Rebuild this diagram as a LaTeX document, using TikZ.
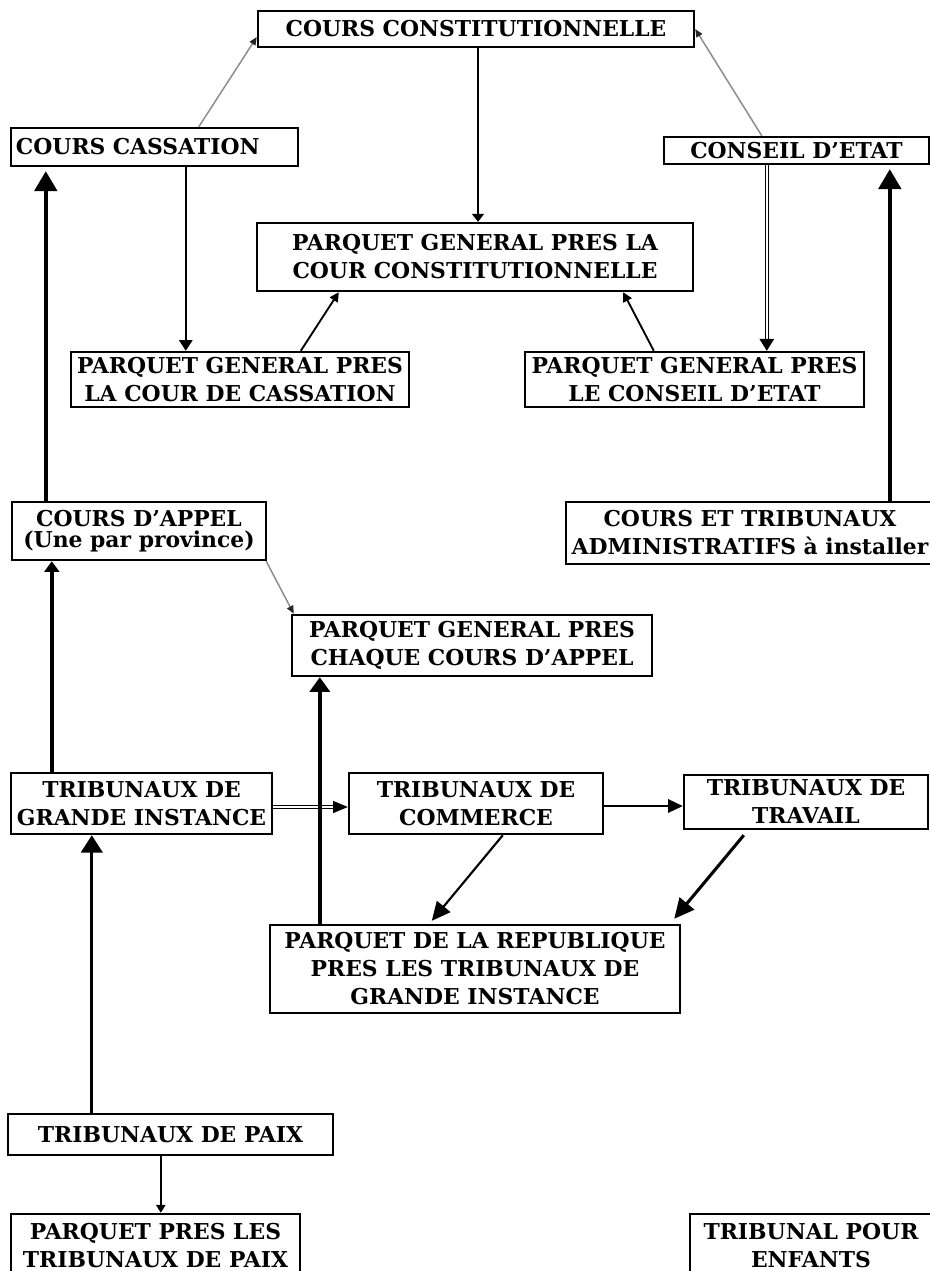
\documentclass[tikz,border=0pt]{standalone}
\usepackage{fontspec}
\setmainfont{DejaVu Serif}
\usetikzlibrary{arrows.meta,calc}
\newcommand\pxu{0.75pt}
\tikzset{
  box/.style={draw=black, line width=1.8pt, inner sep=0pt, align=center,
    font=\bfseries\fontsize{16.4}{21}\selectfont},
  sz/.style 2 args={minimum width=#1*\pxu, minimum height=#2*\pxu},
  grayline/.style={draw=black!45, line width=1.1pt, -{Triangle[length=6pt,width=5pt,color=black!85]}},
  thickline/.style={draw=black, line width=2.6pt},
  midline/.style={draw=black, line width=1.4pt},
  dblline/.style={draw=black, double=white, double distance=1.1pt, line width=0.8pt},
}
\begin{document}
\begin{tikzpicture}[x=0.75pt,y=-0.75pt]
\clip (0,0) rectangle (930,1271);
\fill[white] (0,0) rectangle (930,1271);

% nodes
\node[box, sz={436}{36}] (cc) at (476,29) {COURS CONSTITUTIONNELLE};
\node[box, align=left, text width=277*\pxu, inner xsep=5*\pxu, minimum height=38*\pxu] (cass) at (154.5,147) {COURS CASSATION};
\node[box, sz={265}{27}] (ce) at (796.5,150.5) {CONSEIL D’ETAT};
\node[box, sz={436}{68}] (pgconst) at (475,257) {PARQUET GENERAL PRES LA\\COUR CONSTITUTIONNELLE};
\node[box, sz={338}{55}] (pgcass) at (240,379.5) {PARQUET GENERAL PRES\\LA COUR DE CASSATION};
\node[box, sz={339}{55}] (pgce) at (694.5,379.5) {PARQUET GENERAL PRES\\LE CONSEIL D’ETAT};
\node[box, sz={254}{58}, font=\bfseries\fontsize{16.4}{16}\selectfont] (appel) at (139,531) {COURS D’APPEL\\(Une par province)};
\node[box, sz={368}{62}] (admin) at (750,533) {COURS ET TRIBUNAUX\\ADMINISTRATIFS à installer};
\node[box, sz={360}{61}] (chaque) at (472,645.5) {PARQUET GENERAL PRES\\CHAQUE COURS D’APPEL};
\node[box, sz={261}{61}] (tgi) at (141.5,803.5) {TRIBUNAUX DE\\GRANDE INSTANCE};
\node[box, sz={254}{61}] (comm) at (476,803.5) {TRIBUNAUX DE\\COMMERCE};
\node[box, sz={244}{54}] (trav) at (806,802) {TRIBUNAUX DE\\TRAVAIL};
\node[box, sz={410}{88}] (rep) at (475,969) {PARQUET DE LA REPUBLIQUE\\PRES LES TRIBUNAUX DE\\GRANDE INSTANCE};
\node[box, sz={325}{41}] (paix) at (170.5,1134.5) {TRIBUNAUX DE PAIX};
\node[box, sz={289}{64}] (ppaix) at (155.5,1246) {PARQUET PRES LES\\TRIBUNAUX DE PAIX};
\node[box, sz={242}{64}] (enf) at (811,1246) {TRIBUNAL POUR\\ENFANTS};

% connectors
\draw[grayline] ($(cass.north west)+(189,0)$) -- ($(cc.west)+(0,8)$);
\draw[grayline] ($(ce.north west)+(99,0)$) -- (cc.east);
\draw[midline, -{Triangle[length=6pt,width=9pt]}] ($(cc.south)+(2,0)$) -- ($(pgconst.north)+(3,0)$);
\draw[midline, -{Triangle[length=8pt,width=10pt]}] ($(cass.south west)+(176,0)$) -- ($(pgcass.north west)+(116,0)$);
\draw[midline, -{Triangle[length=7pt,width=7pt]}] ($(pgcass.north west)+(231,0)$) -- ($(pgconst.south west)+(83,0)$);
\draw[midline, -{Triangle[length=7pt,width=7pt]}] ($(pgce.north west)+(130,0)$) -- ($(pgconst.south east)+(-71,0)$);
\draw[dblline, -{Triangle[length=9pt,width=11pt]}] ($(ce.south west)+(104,0)$) -- ($(pgce.north west)+(243,0)$);
\draw[thickline, -{Triangle[length=15pt,width=17pt]}] ($(appel.north west)+(35,0)$) -- ($(cass.south west)+(36,4)$);
\draw[thickline, -{Triangle[length=15pt,width=17pt]}] ($(admin.north west)+(325,0)$) -- ($(ce.south west)+(227,4)$);
\draw[grayline] ($(appel.south east)+(-1,0)$) -- ($(chaque.north west)+(3,0)$);
\draw[thickline, -{Triangle[length=8pt,width=11pt]}] ($(tgi.north west)+(42,0)$) -- ($(appel.south west)+(41,0)$);
\draw[dblline, -{Triangle[length=11pt,width=9pt]}] ($(tgi.east)+(0,3.5)$) -- ($(comm.west)+(0,3.5)$);
\draw[thickline, -{Triangle[length=11pt,width=15pt]}] ($(rep.north west)+(51,0)$) -- ($(chaque.south west)+(29,0)$);
\draw[midline, line width=1.5pt, -{Triangle[length=11pt,width=10pt]}] ($(comm.east)+(0,2.5)$) -- ($(trav.west)+(0,4)$);
\draw[midline, line width=1.6pt, -{Triangle[length=14pt,width=13pt]}] ($(comm.south west)+(155,0)$) -- ($(rep.north west)+(163,-3)$);
\draw[thickline, line width=2.3pt, -{Triangle[length=15pt,width=14pt]}] ($(trav.south west)+(61,5)$) -- ($(rep.north east)+(-7,-5)$);
\draw[thickline, line width=2.2pt, -{Triangle[length=13pt,width=16pt]}] ($(paix.north west)+(85,0)$) -- ($(tgi.south west)+(82,0)$);
\draw[midline, -{Triangle[length=6pt,width=7pt]}] ($(paix.south west)+(154,0)$) -- ($(ppaix.north west)+(151,0)$);
\end{tikzpicture}
\end{document}
